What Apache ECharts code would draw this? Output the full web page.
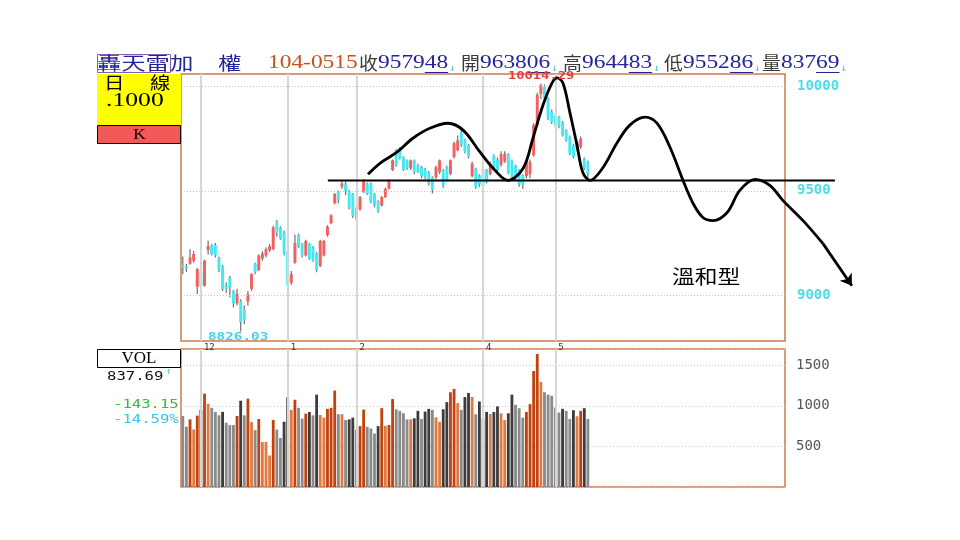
<!DOCTYPE html>
<html><head><meta charset="utf-8">
<script src="https://cdn.jsdelivr.net/npm/echarts/dist/echarts.min.js"></script>
<style>html,body{margin:0;padding:0;background:#fff}#c{width:960px;height:540px}</style>
</head><body><div id="c"></div>
<script>
// ---------------- data ----------------
const dayCount = 167;               // trading-day slots on the time axis (incl. empty future)
// daily candles: [open, close, low, high]
const ohlc = [
 [9145,9130,9100,9185],[9135,9128,9110,9150],[9150,9180,9145,9220],[9165,9197,9155,9212],
 [9040,9125,9005,9130],[9110,9045,9030,9120],[9045,9165,9040,9170],[9215,9235,9195,9262],
 [9240,9197,9190,9245],[9240,9190,9180,9250],[9180,9125,9110,9185],[9140,9030,9020,9145],
 [9045,9030,9010,9060],[9084,9036,8988,9092],[9020,8960,8940,9025],[8960,9005,8950,9030],
 [8970,8870,8826.03,8980],[8930,8880,8860,8950],[8970,9004,8950,9020],[9030,9100,9020,9105],
 [9150,9110,9100,9155],[9120,9190,9115,9195],[9175,9200,9165,9210],[9190,9220,9180,9228],
 [9215,9235,9205,9245],[9220,9325,9215,9333],[9350,9300,9280,9360],[9325,9270,9265,9330],
 [9300,9200,9190,9310],[9210,9045,9040,9215],[9060,9100,9050,9115],[9155,9250,9150,9290],
 [9290,9230,9225,9295],[9245,9190,9180,9250],[9190,9260,9185,9265],[9245,9175,9170,9250],
 [9230,9165,9160,9235],[9200,9120,9110,9205],[9140,9260,9135,9265],[9190,9260,9185,9265],
 [9288,9328,9280,9335],[9345,9382,9340,9388],[9440,9485,9435,9490],[9495,9455,9440,9500],
 [9520,9535,9510,9545],[9535,9500,9480,9545],[9500,9420,9410,9505],[9485,9380,9370,9490],
 [9420,9365,9360,9425],[9410,9470,9405,9475],[9495,9550,9490,9555],[9535,9485,9480,9540],
 [9535,9445,9440,9540],[9485,9430,9420,9490],[9450,9405,9395,9455],[9430,9470,9425,9475],
 [9470,9510,9465,9515],[9510,9550,9505,9555],[9600,9646,9595,9650],[9694,9622,9615,9700],
 [9704,9656,9650,9710],[9661,9600,9595,9665],[9646,9608,9600,9650],[9608,9646,9600,9650],
 [9646,9590,9580,9650],[9622,9590,9585,9630],[9613,9570,9560,9620],[9600,9565,9555,9610],
 [9590,9535,9525,9595],[9565,9505,9487,9570],[9565,9613,9555,9620],[9590,9646,9580,9650],
 [9598,9525,9515,9605],[9614,9555,9545,9620],[9582,9646,9575,9650],[9661,9728,9655,9735],
 [9694,9742,9690,9765],[9780,9720,9710,9790],[9745,9690,9680,9750],[9720,9665,9655,9725],
 [9570,9630,9565,9640],[9605,9518,9510,9610],[9575,9530,9520,9580],[9605,9525,9515,9612],
 [9600,9545,9535,9605],[9580,9630,9575,9640],[9670,9610,9600,9675],[9650,9600,9595,9660],
 [9625,9675,9615,9690],[9640,9678,9635,9690],[9675,9585,9580,9680],[9645,9560,9555,9650],
 [9620,9560,9550,9625],[9600,9530,9520,9605],[9575,9530,9510,9580],[9570,9640,9560,9650],
 [9580,9640,9560,9650],[9670,9815,9665,9825],[9815,9960,9810,9970],[9965,10005,9940,10014.29],
 [10000,9945,9930,10010],[9943,9847,9840,9950],[9880,9830,9820,9890],[9860,9815,9805,9865],
 [9855,9810,9800,9860],[9830,9765,9760,9835],[9790,9742,9735,9795],[9760,9680,9670,9765],
 [9718,9662,9655,9725],[9702,9734,9690,9740],[9710,9750,9700,9760],[9655,9607,9600,9660],
 [9638.06,9579.48,9552.86,9644.83]
];
// daily volume (100M)
const volumes = [
 875,742,833,708,879,950,1150,1025,975,925,883,925,792,763,763,875,1063,883,1088,800,
 700,838,554,554,388,825,708,604,804,1104,950,1075,975,842,904,925,883,1138,888,854,
 963,975,1188,896,896,825,833,854,708,750,954,742,721,658,750,971,754,763,
 1083,958,938,908,833,833,846,938,838,929,963,950,858,804,958,1046,1167,1208,1033,950,
 1108,1158,1108,896,1054,846,925,900,925,992,908,825,908,1138,1013,971,854,925,1021,1429,
 1638,1296,1167,1138,1125,979,917,963,938,838,946,871,938,971,837.69
];
const monthStarts = [5, 29, 48, 83, 103];
const monthNames  = ['12', '1', '2', '4', '5'];
const priceTicks  = [9000, 9500, 10000];
const volTicks    = [500, 1000, 1500];
const changeVal   = -143.15;
const changePct   = -14.59;
// hand-drawn projection (day index, index level)
const neckline  = [[40.1, 9550], [180.3, 9550]];
const pathCurve = [[51.2,9579],[54.5,9632],[59.2,9685],[63.6,9752],[68.3,9800],[73.3,9824],[77.5,9791],
 [82.2,9685],[85.8,9608],[89.9,9550],[94.1,9608],[96.8,9752],[99.6,9911],[102.1,10017],[103.5,10041],
 [105.1,10017],[107.0,9877],[109.0,9718],[110.6,9588],[112.6,9550],[116.2,9612],[120.0,9728],
 [123.6,9815],[127.8,9853],[131.1,9824],[134.7,9709],[138.3,9550],[141.1,9439],[143.8,9372],
 [146.6,9357],[150.5,9396],[154.0,9502],[158.2,9555],[162.3,9526],[165.9,9454],[171.5,9357],[177.0,9247]];
const arrowSeg  = [[177.0, 9247], [185.0, 9045]];

// ---------------- chart ----------------
const cats = Array.from({length: dayCount}, (_, i) => 'd' + i);
const PL = 181, PW = 604, slot = PW / dayCount;
const overMin = -0.5, overMax = 189.5;
const yMin = 8780, yMax = 10060;

const CJK = '"Noto Sans CJK TC"', SERIF = '"Liberation Serif"', MONO = '"DejaVu Sans Mono"';
const blue = '#24249a';
const fmt2 = v => v.toFixed(2).replace('.', '');
const last = ohlc[ohlc.length - 1];
const lows = ohlc.map(d => d[2]), highs = ohlc.map(d => d[3]);

function volColor(i) {
  const up = ohlc[i][1] >= ohlc[i][0];
  const rising = i > 0 && volumes[i] > volumes[i - 1];
  if (up) return rising ? '#c0420f' : '#e07a42';
  return rising ? '#3c3c3c' : '#8a8a8a';
}

const G = [];
function txt(text, x, y, font, fill, sx, align) {
  G.push({type: 'text', x: x, y: y, scaleX: sx || 1, z: 100,
    style: {text: text, font: font, fill: fill, align: align || 'left', verticalAlign: 'middle'}});
}
function rect(x, y, w, h, fill, stroke) {
  G.push({type: 'rect', z: 90, shape: {x: x, y: y, width: w, height: h},
    style: {fill: fill || 'none', stroke: stroke || null, lineWidth: 1}});
}
function uline(x1, x2, y, c) {
  G.push({type: 'line', z: 100, shape: {x1: x1, y1: y, x2: x2, y2: y}, style: {stroke: c, lineWidth: 1}});
}
// header
const HC = '18px ' + CJK, HN = '18px ' + SERIF, DW = 11.7;
txt('轟天雷', 97, 63, HC, blue, 1.35);
rect(97.5, 54.5, 73, 18, null, '#8060b0');
txt('加', 170, 63, HC, blue, 1.3);
txt('權', 218, 63, HC, blue, 1.3);
txt('104-0515', 268, 63, HN, '#c4521e', 1.3);
const hdr = [['收', 359, fmt2(last[1])], ['開', 461, fmt2(last[0])], ['高', 563, fmt2(last[3])],
             ['低', 664, fmt2(last[2])], ['量', 762, fmt2(volumes[volumes.length - 1])]];
hdr.forEach(h => {
  txt(h[0], h[1], 63, HC, '#3a3a3a', 1.05);
  const x0 = h[1] + 19;
  txt(h[2], x0, 63, HN, blue, 1.3);
  const n = h[2].length;
  uline(x0 + (n - 2) * DW, x0 + n * DW, 72.5, blue);
  txt('↓', x0 + n * DW + 1, 68, '10px ' + MONO, '#38c0e8', 1);
});
// left boxes
rect(97, 74, 84, 51, '#ffff00', null);
txt('日', 104, 83, '17px ' + CJK, '#000', 1.2);
txt('線', 150, 83, '17px ' + CJK, '#000', 1.2);
txt('.1000', 106, 101, '19px ' + SERIF, '#000', 1.35);
rect(97.5, 125.5, 83, 18, '#f25a5a', '#000');
txt('K', 133, 135, '15px ' + SERIF, '#000', 1.2);
rect(97.5, 349.5, 83, 18, '#fff', '#000');
txt('VOL', 139, 358.5, '17px ' + SERIF, '#000', 1, 'center');
txt(volumes[volumes.length - 1].toFixed(2), 107, 377, '12px ' + MONO, '#111', 1.3);
txt('↑', 166, 372, '9px ' + MONO, '#38c0e8', 1);
txt(changeVal.toFixed(2), 113, 405, '12px ' + MONO, '#3cb83c', 1.3);
txt(changePct.toFixed(2) + '%', 113, 420, '12px ' + MONO, '#38c6e6', 1.3);
// extreme labels and note
txt(Math.min.apply(null, lows).toFixed(2), 208, 337, 'bold 11px ' + MONO, '#48d0ee', 1.3);
txt(Math.max.apply(null, highs).toFixed(2), 508, 76, 'bold 11px ' + MONO, '#e03c3c', 1.25);
txt('溫和型', 672, 277, '19px ' + CJK, '#000', 1.2);

const gridLines = priceTicks.map(v => ({yAxis: v, lineStyle: {type: [1, 2], color: '#c4c4c4', width: 1}}))
  .concat(monthStarts.map(i => ({xAxis: cats[i], lineStyle: {type: 'solid', color: '#d6d6d6', width: 2}})));
const volMonthLines = monthStarts.map(i => ({xAxis: cats[i], lineStyle: {type: 'solid', color: '#d6d6d6', width: 2}}));

const option = {
  animation: false,
  backgroundColor: '#fff',
  grid: [
    {left: PL, top: 74, width: PW, height: 267, show: true, borderColor: '#c67c50', borderWidth: 1.5, backgroundColor: '#fff'},
    {left: PL, top: 349, width: PW, height: 138, show: true, borderColor: '#c67c50', borderWidth: 1.5, backgroundColor: '#fff'},
    {left: PL, top: 74, width: slot * (overMax - overMin), height: 267, show: false}
  ],
  xAxis: [
    {type: 'category', gridIndex: 0, data: cats, boundaryGap: true,
     axisLine: {show: false}, axisTick: {show: false}, splitLine: {show: false},
     axisLabel: {interval: (i) => monthStarts.indexOf(i) >= 0,
       formatter: (v, i) => { const k = monthStarts.indexOf(i); return k >= 0 ? monthNames[k] : ''; },
       fontSize: 9, fontFamily: MONO, color: '#333', margin: 2, align: 'left', padding: [0, 0, 0, 3]}},
    {type: 'category', gridIndex: 1, data: cats, boundaryGap: true,
     axisLine: {show: false}, axisTick: {show: false}, axisLabel: {show: false}, splitLine: {show: false}},
    {type: 'value', gridIndex: 2, min: overMin, max: overMax, show: false}
  ],
  yAxis: [
    {type: 'value', gridIndex: 0, position: 'right', min: yMin, max: yMax, interval: 20,
     axisLine: {show: false}, axisTick: {show: false}, splitLine: {show: false},
     axisLabel: {formatter: v => priceTicks.indexOf(v) >= 0 ? String(v) : '', color: '#4fdcec',
       fontFamily: MONO, fontSize: 14, fontWeight: 'bold', margin: 12}},
    {type: 'value', gridIndex: 1, position: 'right', min: 0, max: 1700, interval: 500,
     axisLine: {show: false}, axisTick: {show: false},
     splitLine: {show: true, lineStyle: {type: [1, 2], color: '#cccccc'}},
     axisLabel: {formatter: v => volTicks.indexOf(v) >= 0 ? String(v) : '', color: '#555',
       fontFamily: MONO, fontSize: 14, margin: 11}},
    {type: 'value', gridIndex: 2, min: yMin, max: yMax, show: false}
  ],
  graphic: {elements: G},
  series: [
    {type: 'line', xAxisIndex: 0, yAxisIndex: 0, data: [], z: 1, silent: true,
     markLine: {symbol: 'none', silent: true, label: {show: false}, data: gridLines}},
    {type: 'line', xAxisIndex: 1, yAxisIndex: 1, data: [], z: 1, silent: true,
     markLine: {symbol: 'none', silent: true, label: {show: false}, data: volMonthLines}},
    {type: 'custom', xAxisIndex: 0, yAxisIndex: 0, z: 3, clip: true,
     data: ohlc.map((d, i) => [i, d[0], d[1], d[2], d[3]]),
     encode: {x: 0, y: [1, 2, 3, 4]},
     renderItem: function (params, api) {
       const i = api.value(0), o = api.value(1), c = api.value(2), l = api.value(3), h = api.value(4);
       const pO = api.coord([i, o]), pC = api.coord([i, c]), pL = api.coord([i, l]), pH = api.coord([i, h]);
       const x = pO[0];
       const bw = api.size([1, 0])[0] * 0.82;
       const up = c >= o;
       const top = Math.min(pO[1], pC[1]);
       const hgt = Math.max(1.5, Math.abs(pO[1] - pC[1]));
       return {type: 'group', children: [
         {type: 'line', shape: {x1: x, y1: pH[1], x2: x, y2: pL[1]}, style: {stroke: '#707070', lineWidth: 1.2}},
         {type: 'rect', shape: {x: x - bw / 2, y: top, width: bw, height: hgt},
          style: {fill: up ? '#f26060' : '#46e8f4'}}
       ]};
     }},
    {type: 'bar', xAxisIndex: 1, yAxisIndex: 1, z: 3, barWidth: '78%',
     data: volumes.map((v, i) => ({value: v, itemStyle: {color: volColor(i)}}))},
    {type: 'line', xAxisIndex: 2, yAxisIndex: 2, z: 10, data: neckline, symbol: 'none', clip: false,
     lineStyle: {color: '#000', width: 2}, silent: true},
    {type: 'line', xAxisIndex: 2, yAxisIndex: 2, z: 10, data: pathCurve, symbol: 'none', smooth: 0.35, clip: false,
     lineStyle: {color: '#000', width: 2.8}, silent: true,
     markLine: {symbol: ['none', 'arrow'], symbolSize: 11, silent: true, label: {show: false},
       lineStyle: {color: '#000', width: 2.8, type: 'solid'},
       data: [[{coord: arrowSeg[0]}, {coord: arrowSeg[1]}]]}}
  ]
};
const chart = echarts.init(document.getElementById('c'));
chart.setOption(option);
</script>
</body></html>
